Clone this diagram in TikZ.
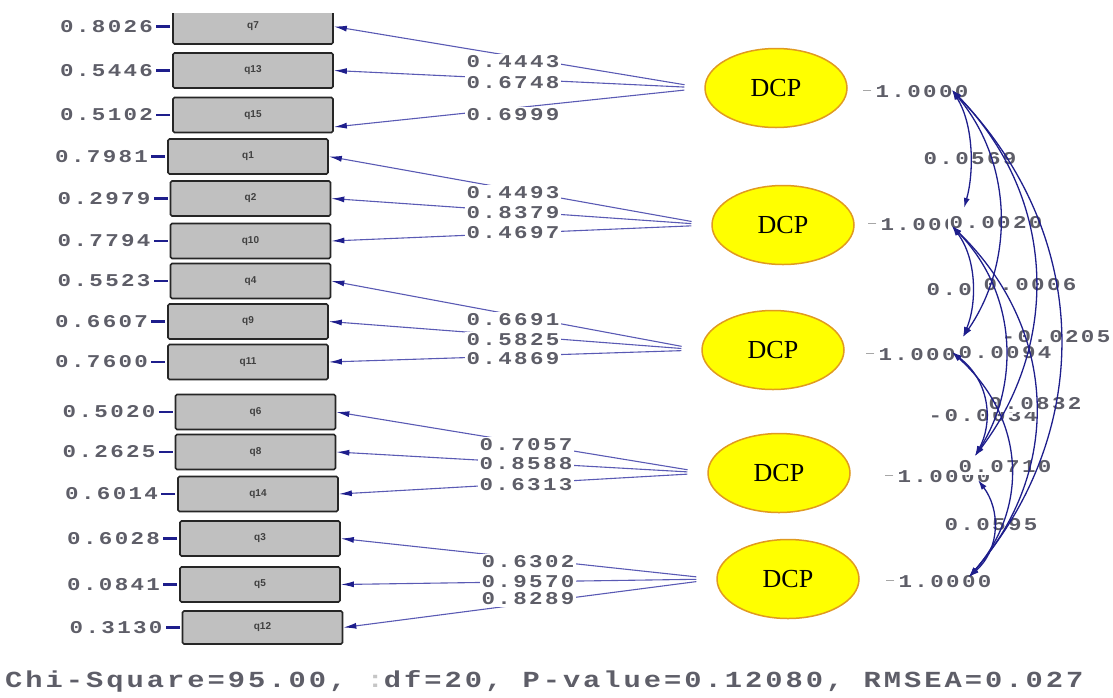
\documentclass[tikz,border=0pt]{standalone}
\usepackage{fontspec}
\setmainfont{Liberation Serif}
\newfontfamily\lisfont[FakeStretch=1.25,LetterSpace=13]{Liberation Mono}
\newfontfamily\boxfont{Liberation Sans}
\usetikzlibrary{arrows.meta,shapes.geometric}
\definecolor{numcol}{HTML}{5E5E68}
\definecolor{loadcol}{HTML}{5A5AB4}
\definecolor{navyd}{HTML}{1E1E8C}
\definecolor{ellfill}{HTML}{FFFF00}
\definecolor{elldraw}{HTML}{E09A20}
\definecolor{boxfill}{HTML}{C0C0C0}
\tikzset{
 qbox/.style={draw=black!85, line width=1.7pt, fill=boxfill, rounded corners=1.5pt, minimum width=160pt, minimum height=35pt, inner sep=0pt, font=\boxfont\bfseries\fontsize{10}{11}\selectfont, text=black!75},
 lv/.style={ellipse, draw=elldraw, line width=1.5pt, fill=ellfill, minimum width=142pt, minimum height=79pt, inner sep=0pt, font=\fontsize{26}{28}\selectfont},
 numlab/.style={font=\lisfont\bfseries\fontsize{18}{20}\selectfont, text=numcol, inner sep=0pt},
 load/.style={draw=loadcol, line width=1.1pt, shorten <=20pt, ->, >={Latex[length=13pt,width=6pt,color=navyd]}},
 loadlab/.style={numlab, fill=white, inner sep=1.5pt},
 errstub/.style={draw=navyd, line width=2.6pt},
 cov/.style={draw=navyd, line width=1.3pt, <->, >={Latex[length=10pt,width=6pt]}},
 covlab/.style={numlab, fill=white, inner sep=1.5pt},
 vdash/.style={draw=gray!70, line width=1pt},
 foot/.style={font=\lisfont\bfseries\fontsize{23}{25}\selectfont, text=numcol, inner sep=0pt}
}
\begin{document}
\begin{tikzpicture}[x=1pt,y=-1pt]
\useasboundingbox (0,0) rectangle (1113,697);
% observed boxes
\begin{scope}
\clip (0,13) rectangle (1113,697);
\node[qbox] (q7) at (253,26.5) {q7};
\end{scope}
\node[qbox] (q13) at (253,70.5) {q13};
\node[qbox] (q15) at (253,115) {q15};
\node[qbox] (q1) at (248,156.5) {q1};
\node[qbox] (q2) at (250.5,198.5) {q2};
\node[qbox] (q10) at (250.5,241) {q10};
\node[qbox] (q4) at (250.5,281) {q4};
\node[qbox] (q9) at (248,321.5) {q9};
\node[qbox] (q11) at (248,362) {q11};
\node[qbox] (q6) at (255.5,412) {q6};
\node[qbox] (q8) at (255.5,452) {q8};
\node[qbox] (q14) at (258,494) {q14};
\node[qbox] (q3) at (260,538.5) {q3};
\node[qbox] (q5) at (260,584.5) {q5};
\node[qbox,minimum height=33pt] (q12) at (262.5,627.5) {q12};
% error variances
\foreach \q/\v in {q7/0.8026,q13/0.5446,q15/0.5102,q1/0.7981,q2/0.2979,q10/0.7794,q4/0.5523,q9/0.6607,q11/0.7600,q6/0.5020,q8/0.2625,q14/0.6014,q3/0.6028,q5/0.0841,q12/0.3130}{
  \draw[errstub] ([shift={(-2,0)}]\q.west) -- ([shift={(-16,0)}]\q.west);
  \node[numlab,anchor=east] (e\q) at ([shift={(-19,0)}]\q.west) {\v};
}
% latent variables
\node[lv] (d1) at (776,88) {DCP};
\node[lv] (d2) at (783,225) {DCP};
\node[lv] (d3) at (773,350) {DCP};
\node[lv] (d4) at (779,473) {DCP};
\node[lv] (d5) at (788,579) {DCP};
% loadings
\draw[load] (d1.west) -- (q7.east);
\draw[load] (d1.west) -- (q13.east);
\draw[load] (d1.west) -- ([shift={(0,12)}]q15.east);
\draw[load] (d2.west) -- (q1.east);
\draw[load] (d2.west) -- (q2.east);
\draw[load] (d2.west) -- (q10.east);
\draw[load] (d3.west) -- (q4.east);
\draw[load] (d3.west) -- (q9.east);
\draw[load] (d3.west) -- (q11.east);
\draw[load] (d4.west) -- (q6.east);
\draw[load] (d4.west) -- (q8.east);
\draw[load] (d4.west) -- (q14.east);
\draw[load] (d5.west) -- (q3.east);
\draw[load] (d5.west) -- (q5.east);
\draw[load] (d5.west) -- (q12.east);
\node[loadlab] (l7) at (513,62) {0.4443};
\node[loadlab] (l13) at (513,83) {0.6748};
\node[loadlab] (l15) at (513,115) {0.6999};
\node[loadlab] (l1) at (513,193) {0.4493};
\node[loadlab] (l2) at (513,213) {0.8379};
\node[loadlab] (l10) at (513,233) {0.4697};
\node[loadlab] (l4) at (513,320) {0.6691};
\node[loadlab] (l9) at (513,340) {0.5825};
\node[loadlab] (l11) at (513,359) {0.4869};
\node[loadlab] (l6) at (526,445) {0.7057};
\node[loadlab] (l8) at (526,464) {0.8588};
\node[loadlab] (l14) at (526,485) {0.6313};
\node[loadlab] (l3) at (528,562) {0.6302};
\node[loadlab] (l5) at (528,582) {0.9570};
\node[loadlab] (l12) at (528,599) {0.8289};
% variances of latent variables
\node[numlab] (v1) at (922,92) {1.0000};
\node[numlab] (v2) at (927,225) {1.0000};
\node[numlab] (v3) at (925,355) {1.0000};
\node[numlab] (v4) at (944,477) {1.0000};
\node[numlab] (v5) at (945,582) {1.0000};
\foreach \v in {v1,v2,v3,v4,v5}{
  \draw[vdash] ([shift={(-4,-2)}]\v.west) -- ([shift={(-12,-2)}]\v.west);
}
\coordinate (D1) at ([shift={(30,-2)}]v1.center);
\coordinate (U2) at ([shift={(37,-17)}]v2.center);
\coordinate (D2) at ([shift={(25,1)}]v2.center);
\coordinate (U3) at ([shift={(38,-18)}]v3.center);
\coordinate (D3) at ([shift={(27,-3)}]v3.center);
\coordinate (U4) at ([shift={(31,-21)}]v4.center);
\coordinate (D4) at ([shift={(34,3)}]v4.center);
\coordinate (U5) at ([shift={(24,-5)}]v5.center);
% covariance labels
\node[covlab] (c12) at (970,159) {0.0569};
\node[covlab] (c13) at (996,223) {0.0020};
\node[covlab,anchor=west] (c23) at (925,290) {0.0};
\node[covlab] (c14) at (1030,285) {0.0006};
\node[covlab] (c24) at (1005,353) {0.0094};
\node[covlab] (c15) at (1056,337) {-0.0205};
\node[covlab,anchor=west] (c34) at (927,416) {-0.0034};
\node[covlab] (c25) at (1035,404) {0.0832};
\node[covlab] (c35) at (1005,467) {0.0710};
\node[covlab] (c45) at (991,525) {0.0595};
% covariance curves
\draw[cov] (D1) .. controls +(22,35) and +(10,-35) .. (U2);
\draw[cov] (D1) .. controls +(62,74) and +(51,-74) .. (U3);
\draw[cov] (D1) .. controls +(107,110) and +(84,-110) .. (U4);
\draw[cov] (D1) .. controls +(141,146) and +(125,-146) .. (U5);
\draw[cov] (D2) .. controls +(25,33) and +(14,-33) .. (U3);
\draw[cov] (D2) .. controls +(67,69) and +(44,-69) .. (U4);
\draw[cov] (D2) .. controls +(108,105) and +(92,-105) .. (U5);
\draw[cov] (D3) .. controls +(40,31) and +(17,-31) .. (U4);
\draw[cov] (D3) .. controls +(75,68) and +(59,-68) .. (U5);
\draw[cov] (D4) .. controls +(22,29) and +(32,-29) .. (U5);
% fit statistics
\node[foot,anchor=west] (fit) at (5,681) {Chi-Square=95.00, {\color{gray!45}:}df=20, P-value=0.12080, RMSEA=0.027};
\end{tikzpicture}
\end{document}
